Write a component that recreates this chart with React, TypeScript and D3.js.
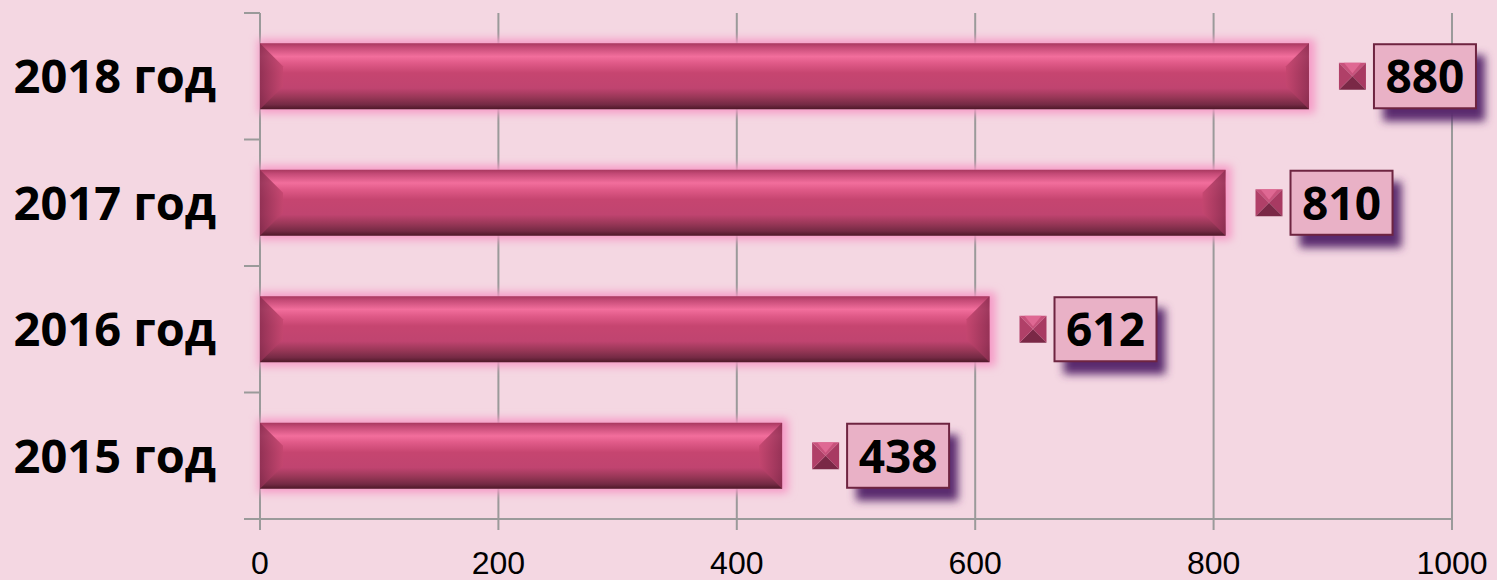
import React from "react";
import * as d3 from "d3";

const categories = ["2018 год", "2017 год", "2016 год", "2015 год"];
const values = [880, 810, 612, 438];
const xTicks = [0, 200, 400, 600, 800, 1000];

const W = 1497;
const H = 580;
const left = 260;
const right = 1452;
const top = 13;
const bottom = 519;

export default function App() {
  const x = d3.scaleLinear().domain([0, 1000]).range([left, right]);
  const y = d3.scaleBand<string>().domain(categories).range([top, bottom]).paddingInner(0.478).paddingOuter(0.239);
  const bandStep = (bottom - top) / categories.length;
  const bh = y.bandwidth();
  const bev = 23;
  const grid = "#9a9a9a";

  return (
    <div style={{ position: "fixed", left: 0, top: 0, width: W, height: H, background: "#f4d7e2" }}>
      <svg width={W} height={H} style={{ display: "block" }}>
        <defs>
          <linearGradient id="barG" x1="0" y1="0" x2="0" y2="1">
            <stop offset="0" stopColor="#a8385f" />
            <stop offset="0.06" stopColor="#c44a76" />
            <stop offset="0.2" stopColor="#f26e9c" />
            <stop offset="0.3" stopColor="#e05a88" />
            <stop offset="0.45" stopColor="#c64570" />
            <stop offset="0.68" stopColor="#c04470" />
            <stop offset="0.82" stopColor="#983757" />
            <stop offset="0.93" stopColor="#742a44" />
            <stop offset="1" stopColor="#4e1828" />
          </linearGradient>
          <linearGradient id="leftBev" x1="0" y1="0" x2="1" y2="0">
            <stop offset="0" stopColor="#8a2e50" />
            <stop offset="1" stopColor="#c4466f" />
          </linearGradient>
          <linearGradient id="rightBev" x1="0" y1="0" x2="1" y2="0">
            <stop offset="0" stopColor="#c4466f" />
            <stop offset="1" stopColor="#8e2f52" />
          </linearGradient>
          <filter id="glow" x="-10%" y="-50%" width="120%" height="200%">
            <feGaussianBlur stdDeviation="4" />
          </filter>
          <filter id="shadow" x="-30%" y="-30%" width="160%" height="160%">
            <feGaussianBlur stdDeviation="4" />
          </filter>
        </defs>

        {xTicks.map((t) => (
          <line key={"g" + t} x1={x(t)} x2={x(t)} y1={top} y2={bottom + 11} stroke={grid} strokeWidth={2} />
        ))}
        {d3.range(categories.length + 1).map((i) => (
          <line key={"yt" + i} x1={244} x2={left} y1={top + i * bandStep} y2={top + i * bandStep} stroke={grid} strokeWidth={2} />
        ))}
        <line x1={244} x2={right} y1={bottom} y2={bottom} stroke={grid} strokeWidth={2} />

        {categories.map((c, i) => {
          const v = values[i];
          const y0 = y(c)!;
          const x0 = x(0);
          const x1 = x(v);
          const cy = y0 + bh / 2;
          const sq = 27;
          const sx = x1 + 30;
          const bx = x1 + 65;
          const bw = 102;
          return (
            <g key={c}>
              <rect x={x0 - 2} y={y0 - 4} width={x1 - x0 + 8} height={bh + 8} fill="#f59ac6" filter="url(#glow)" />
              <rect x={x0} y={y0} width={x1 - x0} height={bh} fill="url(#barG)" />
              <polygon points={`${x0},${y0} ${x0 + bev},${y0 + bev} ${x0 + bev},${y0 + bh - bev} ${x0},${y0 + bh}`} fill="url(#leftBev)" opacity={0.85} />
              <polygon points={`${x1},${y0} ${x1 - bev},${y0 + bev} ${x1 - bev},${y0 + bh - bev} ${x1},${y0 + bh}`} fill="url(#rightBev)" opacity={0.85} />
              <polygon points={`${sx},${cy - sq / 2} ${sx + sq},${cy - sq / 2} ${sx + sq / 2},${cy}`} fill="#c8527c" />
              <polygon points={`${sx + sq},${cy - sq / 2} ${sx + sq},${cy + sq / 2} ${sx + sq / 2},${cy}`} fill="#a83a62" />
              <polygon points={`${sx},${cy + sq / 2} ${sx + sq},${cy + sq / 2} ${sx + sq / 2},${cy}`} fill="#7a2846" />
              <polygon points={`${sx},${cy - sq / 2} ${sx},${cy + sq / 2} ${sx + sq / 2},${cy}`} fill="#b04068" />
              <polygon points={`${sx + 5},${cy - sq / 2} ${sx + sq - 5},${cy - sq / 2} ${sx + sq / 2},${cy - 3}`} fill="#e56e98" opacity={0.8} />
              <rect x={bx + 9} y={y0 + 12} width={bw} height={bh} fill="#5a2a6e" filter="url(#shadow)" />
              <rect x={bx} y={y0 + 1} width={bw} height={bh - 2} fill="#e9b1c6" stroke="#6e2440" strokeWidth={2} />
              <text x={bx + bw / 2} y={cy + 17} textAnchor="middle" fontFamily="'Open Sans', sans-serif" fontWeight="bold" fontSize={46} fill="#000">
                {v}
              </text>
              <text x={216} y={cy + 17} textAnchor="end" fontFamily="'Open Sans', sans-serif" fontWeight="bold" fontSize={47} fill="#000">
                {c}
              </text>
            </g>
          );
        })}

        {xTicks.map((t) => (
          <text key={"tl" + t} x={x(t)} y={574} textAnchor="middle" fontFamily="'Liberation Sans', Arial, sans-serif" fontSize={32} fill="#000">
            {t}
          </text>
        ))}
      </svg>
    </div>
  );
}
